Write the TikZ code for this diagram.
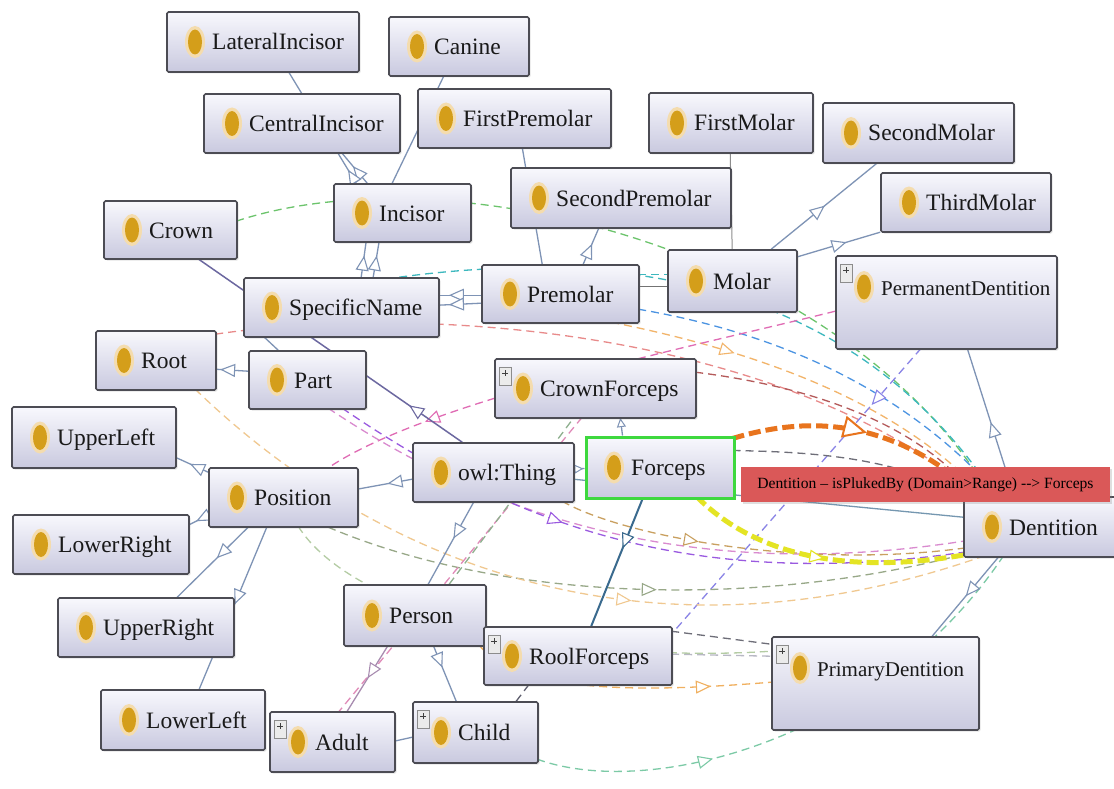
\documentclass[tikz,border=0pt]{standalone}
\usepackage{fontspec}
\setmainfont{Liberation Serif}
\usetikzlibrary{arrows.meta,decorations.markings,shadows}

\definecolor{boxline}{HTML}{4C4C54}
\definecolor{boxtop}{HTML}{F8F8FD}
\definecolor{boxbot}{HTML}{C9C9DF}
\definecolor{iconcore}{HTML}{D49E1A}
\definecolor{iconhalo}{HTML}{F4DCAE}
\definecolor{isacol}{HTML}{7E93B5}
\definecolor{isadark}{HTML}{3A6A8E}
\definecolor{partcol}{HTML}{6C68A0}
\definecolor{adultcol}{HTML}{A88CB0}
\definecolor{labelred}{HTML}{DA5858}
\definecolor{selgreen}{HTML}{3ED83E}
\definecolor{cGreen}{HTML}{6CC46C}
\definecolor{cTeal}{HTML}{3DB8BE}
\definecolor{cBlue}{HTML}{4C94E2}
\definecolor{cSalmon}{HTML}{E88A8A}
\definecolor{cLtOrange}{HTML}{F2B46A}
\definecolor{cPink}{HTML}{E06CB4}
\definecolor{cDarkRed}{HTML}{B45A5A}
\definecolor{cPurple}{HTML}{9A5AE0}
\definecolor{cPinkB}{HTML}{D98ACF}
\definecolor{cTan}{HTML}{C9A060}
\definecolor{cGreyGreen}{HTML}{98A888}
\definecolor{cPale}{HTML}{F0C890}
\definecolor{cPaleGreen}{HTML}{B4CCA4}
\definecolor{cOrange}{HTML}{F0B060}
\definecolor{cGrey}{HTML}{6E6E78}
\definecolor{cLtGrey}{HTML}{B8B8C4}
\definecolor{cPeri}{HTML}{8A84E6}
\definecolor{cSea}{HTML}{7CCAA6}
\definecolor{cRose}{HTML}{E08AB8}
\definecolor{cSage}{HTML}{8FB08F}
\definecolor{cSlate}{HTML}{5E5E6E}
\definecolor{cHotOrange}{HTML}{E8741E}
\definecolor{cYellow}{HTML}{E4E424}

\pgfdeclarelayer{bg}
\pgfdeclarelayer{fg}
\pgfsetlayers{bg,main,fg}

\tikzset{
  clsbox/.style={draw=boxline, line width=1.6pt, rounded corners=1.5pt,
    top color=boxtop, bottom color=boxbot, inner sep=0pt,
    drop shadow={opacity=0.22, shadow xshift=1.5pt, shadow yshift=-1.5pt}},
  selbox/.style={draw=selgreen, line width=3pt,
    top color=boxtop, bottom color=boxbot, inner sep=0pt},
  clstext/.style={anchor=base west, inner sep=0pt, text=black!90,
    font=\fontsize{23.5}{28}\selectfont},
  plusframe/.style={draw=black!45, fill=black!8, line width=0.6pt},
  isa/.style={draw=isacol, line width=1.3pt},
  prop/.style={line width=1.3pt, dash pattern=on 8pt off 5pt},
  tri/.style={postaction={decorate, decoration={markings,
    mark=at position #1 with {\arrow[solid, line width=1.1pt]{Triangle[open, fill=white, length=15pt, width=13pt]}}}}},
  bigtri/.style={postaction={decorate, decoration={markings,
    mark=at position #1 with {\arrow[solid, line width=2pt]{Triangle[open, fill=white, length=24pt, width=22pt]}}}}},
  smalltri/.style={postaction={decorate, decoration={markings,
    mark=at position #1 with {\arrow[solid, line width=1pt]{Triangle[open, fill=white, length=9pt, width=9pt]}}}}},
  tag/.style={fill=labelred, inner sep=0pt, minimum width=369pt, minimum height=35pt,
    text=black, font=\fontsize{15.6}{18}\selectfont,
    drop shadow={opacity=0.25, shadow xshift=1.5pt, shadow yshift=-1.5pt}}
}

% class icon: golden oval with a soft halo
\newcommand\owlicon[2]{%
  \fill[iconhalo] ({#1},{#2}) ellipse (10pt and 16pt);
  \fill[iconcore] ({#1},{#2}) ellipse (7pt and 12.5pt);}
% small expander square in the top left corner of a class box
\newcommand\plusbox[2]{%
  \draw[plusframe] ({#1+4},{#2+8}) rectangle ({#1+16},{#2+26});
  \draw[line width=1pt, black!75] ({#1+7},{#2+14}) -- ({#1+13},{#2+14})
                                   ({#1+10},{#2+11}) -- ({#1+10},{#2+17});}
% class box: style, name, x1, y1, x2, y2, text centre y, text
\newcommand\owlbox[8]{%
  \pgfmathsetmacro\owlW{#5-#3}\pgfmathsetmacro\owlH{#6-#4}%
  \node[#1, minimum width=\owlW pt, minimum height=\owlH pt] (#2) at ({(#3+#5)/2},{(#4+#6)/2}) {};
  \owlicon{#3+28}{#7}%
  \node[clstext] (#2-label) at ({#3+45},{#7+8}) {#8};}

\begin{document}
\begin{tikzpicture}[x=1pt, y=-1pt]
\useasboundingbox (0,0) rectangle (1114,789);

% ---------------- classes ----------------
\owlbox{clsbox}{LatInc}{167}{12}{359}{72}{42}{LateralIncisor}
\owlbox{clsbox}{Canine}{389}{17}{529}{76}{46.5}{Canine}
\owlbox{clsbox}{CenInc}{204}{94}{400}{153}{123.5}{CentralIncisor}
\owlbox{clsbox}{FirstPre}{418}{89}{611}{148}{118.5}{FirstPremolar}
\owlbox{clsbox}{FirstMol}{649}{93}{813}{153}{123}{FirstMolar}
\owlbox{clsbox}{SecondMol}{823}{103}{1014}{163}{133}{SecondMolar}
\owlbox{clsbox}{Incisor}{334}{184}{471}{242}{213}{Incisor}
\owlbox{clsbox}{SecondPre}{511}{168}{731}{228}{198}{SecondPremolar}
\owlbox{clsbox}{ThirdMol}{881}{173}{1051}{232}{202.5}{ThirdMolar}
\owlbox{clsbox}{Crown}{104}{201}{237}{259}{230}{Crown}
\owlbox{clsbox}{SpecName}{244}{278}{439}{337}{307.5}{SpecificName}
\owlbox{clsbox}{Premolar}{482}{265}{639}{323}{294}{Premolar}
\owlbox{clsbox}{Molar}{668}{250}{797}{312}{281}{Molar}
\owlbox{clsbox}{PermDent}{836}{256}{1057}{349}{287}{\fontsize{21}{25}\selectfont PermanentDentition}
\plusbox{836}{256}
\owlbox{clsbox}{Root}{96}{331}{216}{390}{360.5}{Root}
\owlbox{clsbox}{Part}{249}{351}{366}{409}{380}{Part}
\owlbox{clsbox}{CrownF}{495}{359}{696}{418}{388.5}{CrownForceps}
\plusbox{495}{359}
\owlbox{clsbox}{UpperLeft}{12}{407}{176}{468}{437.5}{UpperLeft}
\owlbox{clsbox}{Thing}{413}{443}{574}{502}{472.5}{owl:Thing}
\owlbox{selbox}{Forceps}{586}{437}{734}{498}{467.5}{Forceps}
\owlbox{clsbox}{Position}{209}{468}{358}{527}{497.5}{Position}
\owlbox{clsbox}{LowerRight}{13}{515}{189}{574}{544.5}{LowerRight}
\owlbox{clsbox}{Dentition}{964}{497}{1130}{557}{527}{Dentition}
\owlbox{clsbox}{UpperRight}{58}{598}{234}{657}{627.5}{UpperRight}
\owlbox{clsbox}{Person}{344}{585}{486}{646}{615.5}{Person}
\owlbox{clsbox}{RoolF}{484}{627}{672}{685}{656}{RoolForceps}
\plusbox{484}{627}
\owlbox{clsbox}{PrimDent}{772}{637}{979}{730}{668}{\fontsize{21}{25}\selectfont PrimaryDentition}
\plusbox{772}{637}
\owlbox{clsbox}{LowerLeft}{101}{690}{265}{750}{720}{LowerLeft}
\owlbox{clsbox}{Adult}{270}{712}{395}{772}{742}{Adult}
\plusbox{270}{712}
\owlbox{clsbox}{Child}{413}{702}{538}{763}{732.5}{Child}
\plusbox{413}{702}

% ---------------- connectors (behind the boxes) ----------------
\begin{pgfonlayer}{bg}
\fill[white] (0,0) rectangle (1114,789);

% object property arcs
\draw[prop, cGreen] ([shift={(133,21)}]Crown.north west) .. controls (450,150) and (850,250) .. ([shift={(30,4)}]Dentition.north west);
\draw[prop, cTeal] ([shift={(156,0)}]SpecName.north west) .. controls (600,250) and (850,270) .. ([shift={(35,4)}]Dentition.north west);
\draw[prop, cBlue] ([shift={(157,45)}]Premolar.north west) .. controls (760,330) and (900,380) .. ([shift={(40,4)}]Dentition.north west);
\draw[prop, cSalmon] ([shift={(120,4)}]Root.north west) .. controls (450,300) and (800,340) .. ([shift={(20,4)}]Dentition.north west);
\draw[prop, cLtOrange, tri=0.3] ([shift={(130,58)}]Premolar.north west) .. controls (750,350) and (900,400) .. ([shift={(25,4)}]Dentition.north west);
\draw[prop, cDarkRed] ([shift={(201,14)}]CrownF.north west) .. controls (800,385) and (920,420) .. ([shift={(15,4)}]Dentition.north west);
\draw[prop, cPink, tri=0.8] ([shift={(0,56)}]PermDent.north west) .. controls (700,345) and (430,400) .. ([shift={(121,0)}]Position.north west);
\draw[prop, cPeri, tri=0.2] ([shift={(86,93)}]PermDent.north west) -- ([shift={(190,6)}]RoolF.north west);
\draw[prop, cGrey] ([shift={(148,15)}]Forceps.north west) .. controls (820,452) and (900,458) .. ([shift={(15,5)}]Dentition.north west);
\draw[prop, cPinkB] ([shift={(80,58)}]Part.north west) .. controls (480,510) and (680,585) .. ([shift={(0,45)}]Dentition.north west);
\draw[prop, cPurple, tri=0.38] ([shift={(94,58)}]Part.north west) .. controls (520,530) and (700,590) .. ([shift={(1,56)}]Dentition.north west);
\draw[prop, cTan, tri=0.35] ([shift={(150,59)}]Thing.north west) .. controls (620,535) and (800,570) .. ([shift={(0,52)}]Dentition.north west);
\draw[prop, cGreyGreen, tri=0.52] ([shift={(120,60)}]Position.north west) .. controls (500,600) and (750,610) .. ([shift={(1,58)}]Dentition.north west);
\draw[prop, cPale, tri=0.58] ([shift={(100,59)}]Root.north west) .. controls (330,520) and (600,690) .. ([shift={(20,60)}]Dentition.north west);
\draw[prop, cPaleGreen] ([shift={(90,59)}]Position.north west) .. controls (350,610) and (560,665) .. ([shift={(0,15)}]PrimDent.north west);
\draw[prop, cOrange, tri=0.8] ([shift={(136,61)}]Person.north west) .. controls (520,695) and (650,692) .. ([shift={(0,46)}]PrimDent.north west);
\draw[prop, cGrey] ([shift={(188,5)}]RoolF.north west) -- ([shift={(0,8)}]PrimDent.north west);
\draw[prop, cLtGrey] ([shift={(188,28)}]RoolF.north west) -- ([shift={(0,20)}]PrimDent.north west);
\draw[prop, cSea, tri=0.33] ([shift={(125,58)}]Child.north west) .. controls (650,800) and (880,740) .. ([shift={(40,60)}]Dentition.north west);
\draw[prop, cRose] ([shift={(88,59)}]CrownF.north west) -- ([shift={(70,0)}]Adult.north west);
\draw[prop, cSage] ([shift={(106,0)}]Person.north west) -- ([shift={(80,59)}]CrownF.north west);
\draw[prop, cSlate] ([shift={(104,0)}]Child.north west) -- ([shift={(46,58)}]RoolF.north west);
\draw[prop, cTeal] ([shift={(157,10)}]Premolar.north west) -- ([shift={(0,25)}]Molar.north west);

% subclass links
\draw[isa, tri=0.45] ([shift={(0,37)}]Thing.north west) -- ([shift={(149,22)}]Position.north west);
\draw[isa, tri=0.55] ([shift={(0,5)}]Position.north west) -- ([shift={(164,51)}]UpperLeft.north west);
\draw[isa, tri=0.6] ([shift={(0,48)}]Position.north west) -- ([shift={(176,11)}]LowerRight.north west);
\draw[isa, tri=0.45] ([shift={(41,59)}]Position.north west) -- ([shift={(120,0)}]UpperRight.north west);
\draw[isa, tri=0.48] ([shift={(59,59)}]Position.north west) -- ([shift={(99,0)}]LowerLeft.north west);
\draw[isa, tri=0.45] ([shift={(62,59)}]Thing.north west) -- ([shift={(85,0)}]Person.north west);
\draw[isa, tri=0.4] ([shift={(90,61)}]Person.north west) -- ([shift={(44,0)}]Child.north west);
\draw[isa, draw=adultcol, tri=0.5] ([shift={(45,61)}]Person.north west) -- ([shift={(78,0)}]Adult.north west);
\draw[isa, tri=0.85] ([shift={(0,21)}]Part.north west) -- ([shift={(120,39)}]Root.north west);
\draw[isa, draw=partcol, line width=1.5pt, tri=0.2] ([shift={(50,0)}]Thing.north west) -- ([shift={(94,58)}]Crown.north west);
\draw[isa] ([shift={(30,0)}]Part.north west) -- ([shift={(20,59)}]SpecName.north west);
\draw[isa, tri=0.6] ([shift={(118,0)}]SpecName.north west) -- ([shift={(33,58)}]Incisor.north west);
\draw[isa, tri=0.6] ([shift={(130,0)}]SpecName.north west) -- ([shift={(46,58)}]Incisor.north west);
\draw[isa, tri=0.55] ([shift={(34,0)}]Incisor.north west) -- ([shift={(138,59)}]CenInc.north west);
\draw[isa, tri=0.12] ([shift={(23,0)}]Incisor.north west) -- ([shift={(122,60)}]LatInc.north west);
\draw[isa] ([shift={(59,0)}]Incisor.north west) -- ([shift={(56,59)}]Canine.north west);
\draw[isa] ([shift={(61,0)}]Premolar.north west) -- ([shift={(105,59)}]FirstPre.north west);
\draw[isa, tri=0.55] ([shift={(102,0)}]Premolar.north west) -- ([shift={(89,60)}]SecondPre.north west);
\draw[isa, draw=black!45, line width=1pt] ([shift={(65,0)}]Molar.north west) -- ([shift={(82,60)}]FirstMol.north west);
\draw[isa, tri=0.5] ([shift={(104,0)}]Molar.north west) -- ([shift={(56,60)}]SecondMol.north west);
\draw[isa, tri=0.6] ([shift={(129,8)}]Molar.north west) -- ([shift={(0,60)}]ThirdMol.north west);
\draw[isa, tri=0.75] ([shift={(0,31)}]Premolar.north west) -- ([shift={(195,18)}]SpecName.north west);
\draw[isa, tri=0.75] ([shift={(0,39)}]Premolar.north west) -- ([shift={(195,28)}]SpecName.north west);
\draw[isa, draw=black!55] ([shift={(157,22)}]Premolar.north west) -- ([shift={(0,37)}]Molar.north west);
\draw[isa, draw=isadark, line width=2pt, tri=0.4] ([shift={(59,61)}]Forceps.north west) -- ([shift={(108,0)}]RoolF.north west);
\draw[isa, smalltri=0.95] ([shift={(38,0)}]Forceps.north west) -- ([shift={(126,59)}]CrownF.north west);
\draw[isa, smalltri=0.9] ([shift={(161,27)}]Thing.north west) -- ([shift={(0,33)}]Forceps.north west);
\draw[isa, draw=isadark!70] ([shift={(161,37)}]Thing.north west) -- ([shift={(0,21)}]Dentition.north west);
\draw[isa, tri=0.5] ([shift={(51,0)}]Dentition.north west) -- ([shift={(132,93)}]PermDent.north west);
\draw[isa, tri=0.5] ([shift={(36,60)}]Dentition.north west) -- ([shift={(161,0)}]PrimDent.north west);
\draw[isa] ([shift={(125,30)}]Adult.north west) -- ([shift={(0,36)}]Child.north west);

% highlighted pair of arcs between Forceps and Dentition
\draw[cYellow, line width=5pt, dash pattern=on 12pt off 5pt, tri=0.5]
  ([shift={(112,61)}]Forceps.north west) .. controls (770,570) and (880,570) .. ([shift={(5,58)}]Dentition.north west);
\draw[cHotOrange, line width=5pt, dash pattern=on 12pt off 5pt, bigtri=0.5]
  ([shift={(148,3)}]Forceps.north west) .. controls (800,418) and (890,412) .. ([shift={(20,5)}]Dentition.north west);
\end{pgfonlayer}

% ---------------- relation tag ----------------
\begin{pgfonlayer}{fg}
\node[tag] (reltag) at (925.5,484.5) {Dentition – isPlukedBy (Domain>Range) -{}-> Forceps};
\end{pgfonlayer}
\end{tikzpicture}
\end{document}
